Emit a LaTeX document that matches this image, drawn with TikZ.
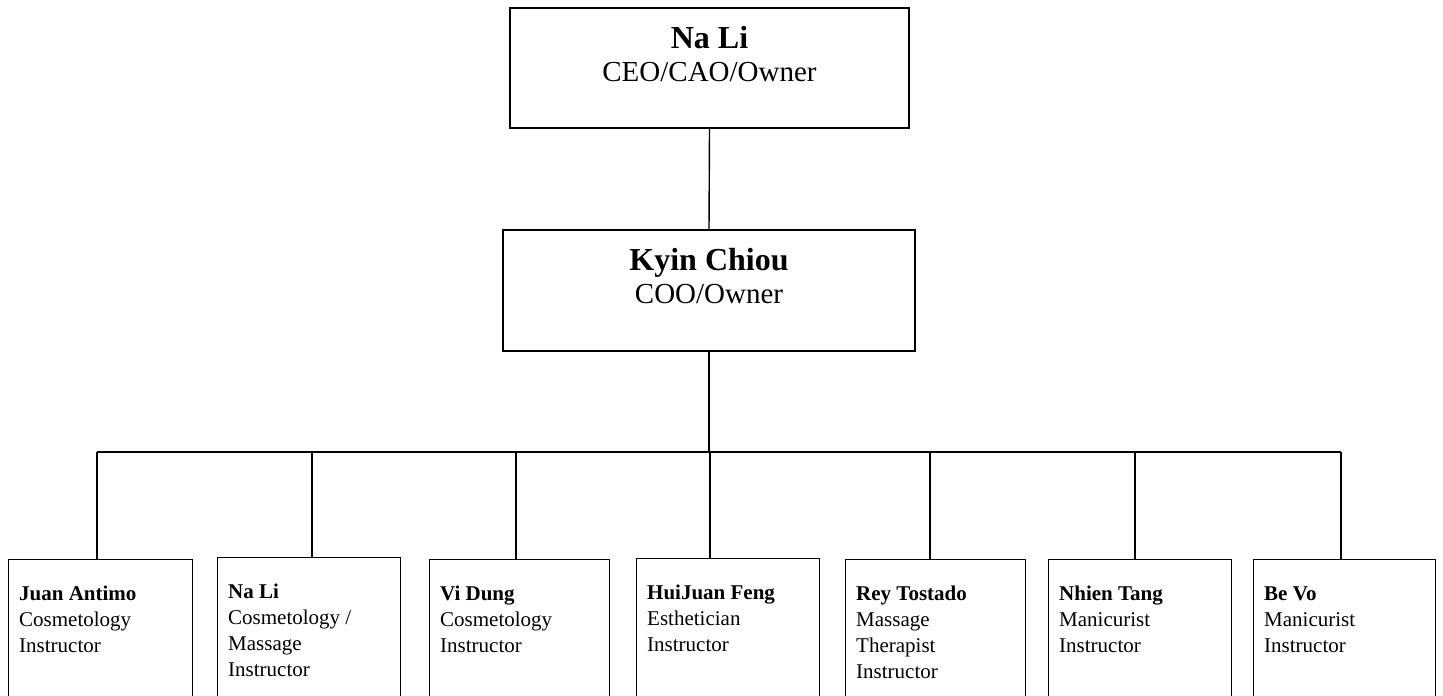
\documentclass[tikz,border=0pt]{standalone}
\usepackage{fontspec}
\setmainfont{Liberation Serif}
\usepackage{tikz}
\tikzstyle{post}=[draw,line width=1.3pt,inner sep=0pt]
\tikzstyle{staff}=[post,anchor=north west,minimum height=150pt]
\tikzstyle{head text}=[inner sep=0pt,anchor=north,align=center,font=\fontsize{29}{33}\selectfont]
\tikzstyle{staff text}=[inner sep=0pt,anchor=north west,align=left,font=\fontsize{21}{26}\selectfont]
\tikzstyle{link}=[draw,line width=1.4pt]
\newcommand{\headname}[1]{{\fontsize{32}{33}\selectfont\bfseries\strut #1}}

\begin{document}
\begin{tikzpicture}[x=1pt,y=-1pt]
  \path[use as bounding box,fill=white] (0,0) rectangle (1443,696);
    % The two owners
    \node[post,minimum width=399pt,minimum height=120pt] (ceo) at (709.5,68) {};
    \node[head text] (ceotext) at ([yshift=-17.9pt]ceo.north) {\headname{Na Li}\\CEO/CAO/Owner};
    \node[post,minimum width=412pt,minimum height=121pt] (coo) at (709,290.5) {};
    \node[head text] (cootext) at ([yshift=-17.9pt]coo.north) {\headname{Kyin Chiou}\\COO/Owner};
    \path[link] (ceo.south) -- (coo.north);
    % The instructors, hanging from one bus line
    \foreach \i/\bx/\bw/\drop/\top/\who/\job in {
          1/8/184/97/559/Juan Antimo/{Cosmetology\\Instructor},
          2/217/183/312/557/Na Li/{Cosmetology /\\Massage\\Instructor},
          3/429/180/516/559/Vi Dung/{Cosmetology\\Instructor},
          4/636/183/710/558/HuiJuan Feng/{Esthetician\\Instructor},
          5/845/180/930/559/Rey Tostado/{Massage\\Therapist\\Instructor},
          6/1048/183/1135/559/Nhien Tang/{Manicurist\\Instructor},
          7/1253/182/1341/559/Be Vo/{Manicurist\\Instructor}}
    {
        \node[staff,minimum width=\bw pt] (s\i) at (\bx,\top) {};
        \node[staff text] (t\i) at ([xshift=11pt,yshift=-23.3pt]s\i.north west) {\strut\textbf{\who}\\\job};
        \coordinate (b\i) at (\drop,452);
        \path[link] (b\i) -- (b\i |- s\i.north);
    }
    \path[link] (b1) -- (b7);
    \path[link] (coo.south) -- (coo.south |- b1);
\end{tikzpicture}
\end{document}
